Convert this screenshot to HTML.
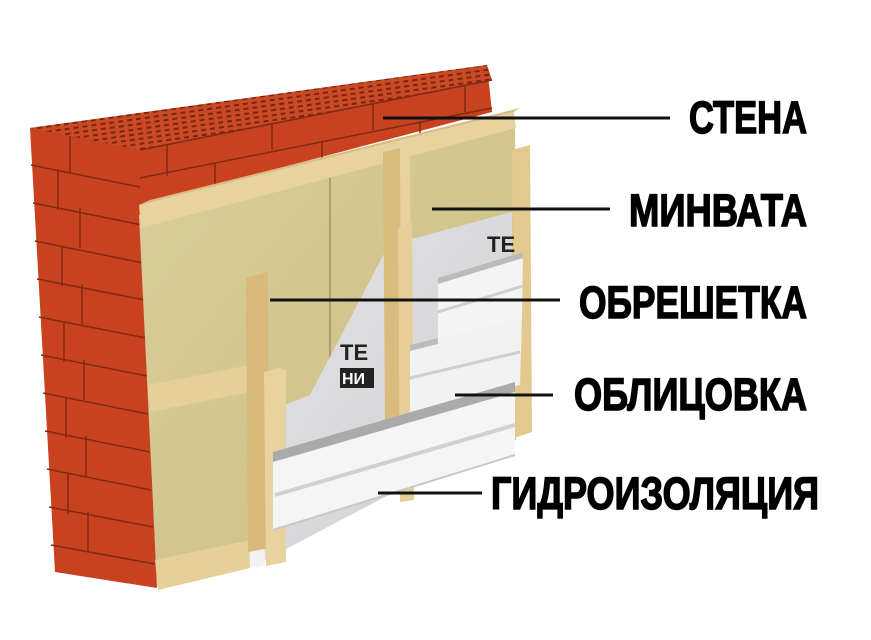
<!DOCTYPE html>
<html><head><meta charset="utf-8"><style>
html,body{margin:0;padding:0;background:#fff;width:871px;height:640px;overflow:hidden}
</style></head><body>
<svg width="871" height="640" viewBox="0 0 871 640" xmlns="http://www.w3.org/2000/svg">
<defs>
<pattern id="holes" width="9" height="5" patternUnits="userSpaceOnUse" patternTransform="rotate(-8)">
<rect width="9" height="5" fill="#c94a24"/><rect x="1" y="1" width="5" height="2" fill="#7a2410"/>
</pattern>
<linearGradient id="ins" x1="0" y1="0" x2="1" y2="1"><stop offset="0" stop-color="#d9cf9a"/><stop offset="1" stop-color="#cbbd84"/></linearGradient>
<linearGradient id="mem" x1="0" y1="0" x2="1" y2="1"><stop offset="0" stop-color="#e4e4e6"/><stop offset="1" stop-color="#cfcfd3"/></linearGradient>
</defs>
<polygon points="30,128 487,65 492,112 140,205 157,588 55,572" fill="#c8421f"/>
<polygon points="30,128 487,65 492,80 140,150" fill="url(#holes)"/>
<g stroke="#7f2a14" stroke-width="1.5" fill="none">
<path d="M31,165 L140,187"/><path d="M33,203 L142,225"/><path d="M35,241 L143,263"/><path d="M37,279 L145,300"/>
<path d="M39,317 L146,338"/><path d="M41,355 L147,376"/><path d="M43,393 L148,414"/><path d="M45,431 L150,452"/>
<path d="M47,469 L151,490"/><path d="M49,507 L153,527"/><path d="M51,545 L155,564"/>
<path d="M70,136 V173"/><path d="M58,170 V210"/><path d="M80,208 V248"/><path d="M62,246 V286"/><path d="M82,284 V324"/><path d="M64,322 V362"/><path d="M84,360 V400"/><path d="M66,398 V438"/><path d="M86,436 V476"/><path d="M68,474 V514"/><path d="M88,512 V552"/>
<path d="M140,150 L492,80"/>
<path d="M140,178 L492,108"/>
<path d="M167,145 V176"/><path d="M272,124 V150"/><path d="M373,104 V130"/><path d="M465,86 V112"/>
<path d="M215,163 V190"/><path d="M322,141 V168"/><path d="M420,121 V148"/>
</g>
<polygon points="139,215 515,118 516,440 157,586" fill="url(#ins)"/>
<line x1="330" y1="168" x2="330" y2="395" stroke="#9e9266" stroke-width="1.5"/>
<polygon points="139,205 514,112 516,128 141,228" fill="#e8d3a0"/>
<polygon points="139,205 150,200 520,108 514,112" fill="#d8bd84"/>
<polygon points="148,385 250,365 250,392 150,412" fill="#e6cf98"/>
<polygon points="155,560 250,540 250,568 158,590" fill="#e6cf98"/>
<polygon points="386,250 408,240 512,212 512,430 250,568 247,420 310,395" fill="url(#mem)"/>
<polygon points="247,420 262,414 265,565 250,568" fill="#f2f2f2"/>
<polygon points="512,150 530,145 532,432 514,438" fill="#e3c98e"/>
<polygon points="383,152 400,148 402,420 385,425" fill="#d9bb7d"/>
<polygon points="400,148 410,150 412,495 402,500" fill="#e8d3a0"/>
<polygon points="398,228 412,222 414,500 400,502" fill="#e6ce96"/>
<text x="487" y="252" font-family="Liberation Sans,sans-serif" font-weight="bold" font-size="22" fill="#222">TE</text>
<text x="340" y="360" font-family="Liberation Sans,sans-serif" font-weight="bold" font-size="22" fill="#222">TE</text>
<rect x="340" y="368" width="34" height="20" fill="#222"/><text x="342" y="384" font-family="Liberation Sans,sans-serif" font-weight="bold" font-size="16" fill="#fff">НИ</text>
<text x="251" y="520" font-family="Liberation Sans,sans-serif" font-weight="bold" font-size="18" fill="#222">E</text>
<rect x="249" y="528" width="16" height="20" fill="#222"/><text x="250" y="544" font-family="Liberation Sans,sans-serif" font-weight="bold" font-size="15" fill="#fff">И</text>
<polygon points="246,278 268,272 270,548 248,552" fill="#d8b97a"/>
<polygon points="264,372 278,368 286,370 286,562 266,566" fill="#e8d3a0"/>
<polygon points="438,278 523,252 522,320 438,345" fill="#f4f4f4"/>
<path d="M438,278 L523,252 L523,258 L438,284 Z" fill="#bbb"/>
<path d="M438,312 L523,286" stroke="#cfcfcf" stroke-width="3"/>
<polygon points="410,345 522,318 520,385 410,412" fill="#f2f2f2"/>
<path d="M410,345 L438,338 L438,344 L410,351 Z" fill="#bbb"/>
<path d="M410,378 L520,352" stroke="#cfcfcf" stroke-width="3"/>
<polygon points="273,458 515,388 515,455 273,530" fill="#f5f5f5"/>
<path d="M273,452 L515,382 L515,392 L273,462 Z" fill="#aaa"/>
<path d="M275,495 L515,425" stroke="#d0d0d0" stroke-width="4"/>
<path d="M273,530 L515,455" stroke="#c8c8c8" stroke-width="2"/>
<g stroke="#111" stroke-width="3">
<line x1="383" y1="118" x2="670" y2="118"/>
<line x1="432" y1="209" x2="610" y2="209"/>
<line x1="270" y1="300" x2="560" y2="300"/>
<line x1="455" y1="395" x2="553" y2="395"/>
<line x1="378" y1="493" x2="482" y2="493"/>
</g>
<g font-family="Liberation Sans,sans-serif" font-weight="bold" font-size="45" fill="#000" stroke="#000" stroke-width="1.5">
<text x="689" y="133" textLength="118" lengthAdjust="spacingAndGlyphs">СТЕНА</text>
<text x="629" y="226" textLength="178" lengthAdjust="spacingAndGlyphs">МИНВАТА</text>
<text x="579" y="318" textLength="228" lengthAdjust="spacingAndGlyphs">ОБРЕШЕТКА</text>
<text x="574" y="410" textLength="233" lengthAdjust="spacingAndGlyphs">ОБЛИЦОВКА</text>
<text x="491" y="509" textLength="328" lengthAdjust="spacingAndGlyphs">ГИДРОИЗОЛЯЦИЯ</text>
</g>
</svg>
</body></html>
